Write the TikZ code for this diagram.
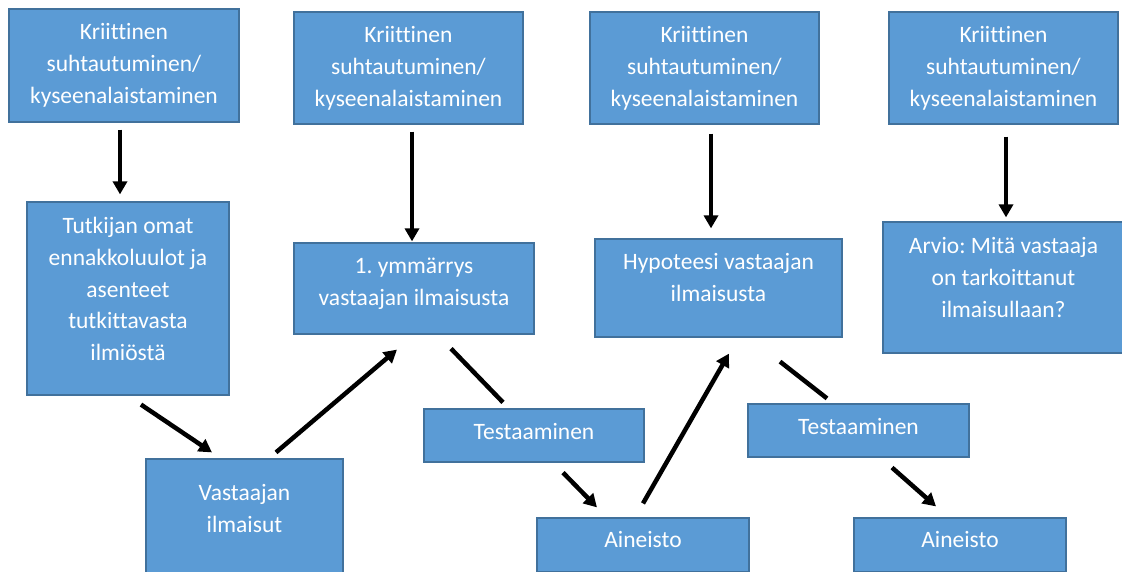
\documentclass[tikz,border=0pt]{standalone}
\usepackage{fontspec}
\setmainfont{Carlito}[Ligatures=NoCommon]
\frenchspacing
\usetikzlibrary{arrows.meta}
\definecolor{boxfill}{HTML}{5B9BD5}
\definecolor{boxline}{HTML}{41719C}
\tikzset{
  blbox/.style={rectangle, draw=boxline, fill=boxfill, line width=1.2pt, inner sep=0pt},
  txt/.style={text=white, align=center, inner sep=0pt, anchor=north,
    font=\fontsize{23.5}{31.7}\selectfont},
  arr/.style={line width=4.5pt, -{Triangle[length=13pt,width=14pt]}},
  ln/.style={line width=4.5pt}
}
\begin{document}
\begin{tikzpicture}[x=1pt,y=-1pt]
\useasboundingbox (0,0) rectangle (1122,572);
\clip (0,0) rectangle (1122,572);
\fill[white] (0,0) rectangle (1122,572);
% boxes
\node[blbox, minimum width=230pt, minimum height=113pt] (k1) at (124,65.5) {};
\node[blbox, minimum width=229pt, minimum height=112pt] (k2) at (408.5,68) {};
\node[blbox, minimum width=229pt, minimum height=112pt] (k3) at (704.5,68) {};
\node[blbox, minimum width=229pt, minimum height=112pt] (k4) at (1003.5,68) {};
\node[blbox, minimum width=202pt, minimum height=193pt] (t) at (128,298.5) {};
\node[blbox, minimum width=240pt, minimum height=91pt] (y1) at (414,288.5) {};
\node[blbox, minimum width=247pt, minimum height=98pt] (hyp) at (718.5,288) {};
\node[blbox, minimum width=241pt, minimum height=131pt] (arvio) at (1003.5,287.5) {};
\node[blbox, minimum width=197pt, minimum height=116pt] (v) at (244.5,517) {};
\node[blbox, minimum width=220pt, minimum height=53pt] (te1) at (534,435.5) {};
\node[blbox, minimum width=212pt, minimum height=54pt] (a1) at (643,545) {};
\node[blbox, minimum width=221pt, minimum height=53pt] (te2) at (858.5,430.5) {};
\node[blbox, minimum width=212pt, minimum height=54pt] (a2) at (960,545) {};
% texts
\node[txt] (k1t) at ([yshift=-9pt]k1.north) {\strut Kriittinen\\suhtautuminen/\\kyseenalaistaminen};
\node[txt] (k2t) at ([yshift=-9pt]k2.north) {\strut Kriittinen\\suhtautuminen/\\kyseenalaistaminen};
\node[txt] (k3t) at ([yshift=-9pt]k3.north) {\strut Kriittinen\\suhtautuminen/\\kyseenalaistaminen};
\node[txt] (k4t) at ([yshift=-9pt]k4.north) {\strut Kriittinen\\suhtautuminen/\\kyseenalaistaminen};
\node[txt] (tt) at ([yshift=-10pt]t.north) {\strut Tutkijan omat\\ennakkoluulot ja\\asenteet\\tutkittavasta\\ilmiöstä};
\node[txt] (y1t) at ([yshift=-9pt]y1.north) {\strut 1. ymmärrys\\vastaajan ilmaisusta};
\node[txt] (hypt) at ([yshift=-9pt]hyp.north) {\strut Hypoteesi vastaajan\\ilmaisusta};
\node[txt] (arviot) at ([yshift=-10pt]arvio.north) {\strut Arvio: Mitä vastaaja\\on tarkoittanut\\ilmaisullaan?};
\node[txt] (vt) at ([yshift=-20pt]v.north) {\strut Vastaajan\\ilmaisut};
\node[txt] (te1t) at ([yshift=-9pt]te1.north) {\strut Testaaminen};
\node[txt] (a1t) at ([yshift=-8pt]a1.north) {\strut Aineisto};
\node[txt] (te2t) at ([yshift=-9pt]te2.north) {\strut Testaaminen};
\node[txt] (a2t) at ([yshift=-8pt]a2.north) {\strut Aineisto};
% connectors
\draw[arr] ([xshift=-4pt,yshift=-7pt]k1.south) -- ([xshift=-8pt,yshift=7pt]t.north);
\draw[arr] ([xshift=3.5pt,yshift=-7pt]k2.south) -- ([xshift=-2pt,yshift=1pt]y1.north);
\draw[arr] ([xshift=6.5pt,yshift=-9pt]k3.south) -- ([xshift=-7.5pt,yshift=10pt]hyp.north);
\draw[arr] ([xshift=2.5pt,yshift=-12pt]k4.south) -- ([xshift=2.5pt,yshift=4pt]arvio.north);
\draw[arr] ([xshift=13pt,yshift=-9pt]t.south) -- ([xshift=-32.5pt,yshift=6pt]v.north);
\draw[arr] ([xshift=31.5pt,yshift=6pt]v.north) -- ([xshift=-17pt,yshift=-15pt]y1.south);
\draw[ln] ([xshift=37pt,yshift=-14pt]y1.south) -- ([xshift=-31pt,yshift=6pt]te1.north);
\draw[arr] ([xshift=29pt,yshift=-10pt]te1.south) -- ([xshift=-46pt,yshift=10pt]a1.north);
\draw[arr] ([yshift=14pt]a1.north) -- ([xshift=10.5pt,yshift=-16pt]hyp.south);
\draw[ln] ([xshift=61.5pt,yshift=-24pt]hyp.south) -- ([xshift=-31.5pt,yshift=5pt]te2.north);
\draw[arr] ([xshift=33.5pt,yshift=-10pt]te2.south) -- ([xshift=-24pt,yshift=11pt]a2.north);
\end{tikzpicture}
\end{document}
